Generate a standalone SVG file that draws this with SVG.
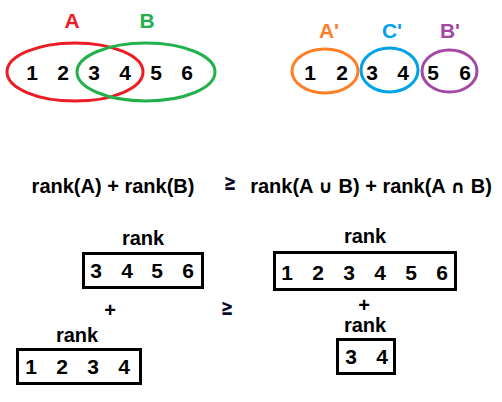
<svg xmlns="http://www.w3.org/2000/svg" width="502" height="402" viewBox="0 0 502 402">
<style>
text{font-family:"Liberation Sans",Arial,sans-serif;font-weight:bold;text-anchor:middle}
.d{font-size:21px;fill:#000}
.l{font-size:21px}
.e{font-size:20px;fill:#000}
.ge{font-family:"DejaVu Sans",sans-serif;font-size:23px;fill:#0a0a28}
.sym{font-family:"DejaVu Sans",sans-serif}
.ring{fill:none;stroke-width:3}
.box{fill:none;stroke:#000;stroke-width:3}
</style>
<rect width="502" height="402" fill="#fff"/>
<g id="setA">
<ellipse class="ring" cx="75" cy="72" rx="68" ry="29" stroke="#ED1C24"/>
<text class="l" x="72" y="28" fill="#ED1C24">A</text>
</g>
<g id="setB">
<ellipse class="ring" cx="146" cy="72" rx="69" ry="29" stroke="#22B14C"/>
<text class="l" x="147" y="28" fill="#22B14C">B</text>
</g>
<g id="elements-left">
<text class="d" x="32" y="80">1</text>
<text class="d" x="63" y="80">2</text>
<text class="d" x="94" y="80">3</text>
<text class="d" x="125" y="80">4</text>
<text class="d" x="156" y="80">5</text>
<text class="d" x="187" y="80">6</text>
</g>
<g id="setAp">
<ellipse class="ring" cx="325" cy="71" rx="33" ry="22" stroke="#FF7F27"/>
<text class="l" x="329" y="38" fill="#FF7F27">A'</text>
<text class="d" x="310" y="80">1</text>
<text class="d" x="342" y="80">2</text>
</g>
<g id="setCp">
<ellipse class="ring" cx="389.5" cy="70" rx="28.5" ry="22" stroke="#00A2E8"/>
<text class="l" x="392" y="38" fill="#00A2E8">C'</text>
<text class="d" x="372" y="80">3</text>
<text class="d" x="403" y="80">4</text>
</g>
<g id="setBp">
<ellipse class="ring" cx="449.5" cy="71" rx="27.5" ry="21" stroke="#A349A4"/>
<text class="l" x="450" y="38" fill="#A349A4">B'</text>
<text class="d" x="433" y="80">5</text>
<text class="d" x="465" y="80">6</text>
</g>
<g id="equation">
<text class="e" x="113" y="193">rank(A) + rank(B)</text>
<text class="ge" transform="translate(230 190) scale(0.65 1)">≥</text>
<text class="e" x="371" y="193">rank(A <tspan class="sym" font-size="18">∪</tspan> B) + rank(A <tspan class="sym" font-size="18">∩</tspan> B)</text>
</g>
<g id="box-B">
<text class="e" x="143" y="245">rank</text>
<rect class="box" x="83.5" y="253.5" width="119" height="34"/>
<text class="d" x="96" y="278">3</text>
<text class="d" x="127" y="278">4</text>
<text class="d" x="157" y="278">5</text>
<text class="d" x="188" y="278">6</text>
</g>
<text class="e" x="110" y="317">+</text>
<g id="box-A">
<text class="e" x="77" y="342">rank</text>
<rect class="box" x="17.5" y="349.5" width="123" height="34"/>
<text class="d" x="31" y="374">1</text>
<text class="d" x="62" y="374">2</text>
<text class="d" x="93" y="374">3</text>
<text class="d" x="124" y="374">4</text>
</g>
<text class="ge" transform="translate(227 315) scale(0.65 1)">≥</text>
<g id="box-union">
<text class="e" x="365" y="243">rank</text>
<rect class="box" x="274.5" y="252.5" width="181" height="37"/>
<text class="d" x="287" y="280">1</text>
<text class="d" x="318" y="280">2</text>
<text class="d" x="349" y="280">3</text>
<text class="d" x="380" y="280">4</text>
<text class="d" x="411" y="280">5</text>
<text class="d" x="442" y="280">6</text>
</g>
<text class="e" x="364" y="312">+</text>
<g id="box-inter">
<text class="e" x="365" y="332">rank</text>
<rect class="box" x="337.5" y="339.5" width="57" height="34"/>
<text class="d" x="351" y="364">3</text>
<text class="d" x="382" y="364">4</text>
</g>
</svg>
